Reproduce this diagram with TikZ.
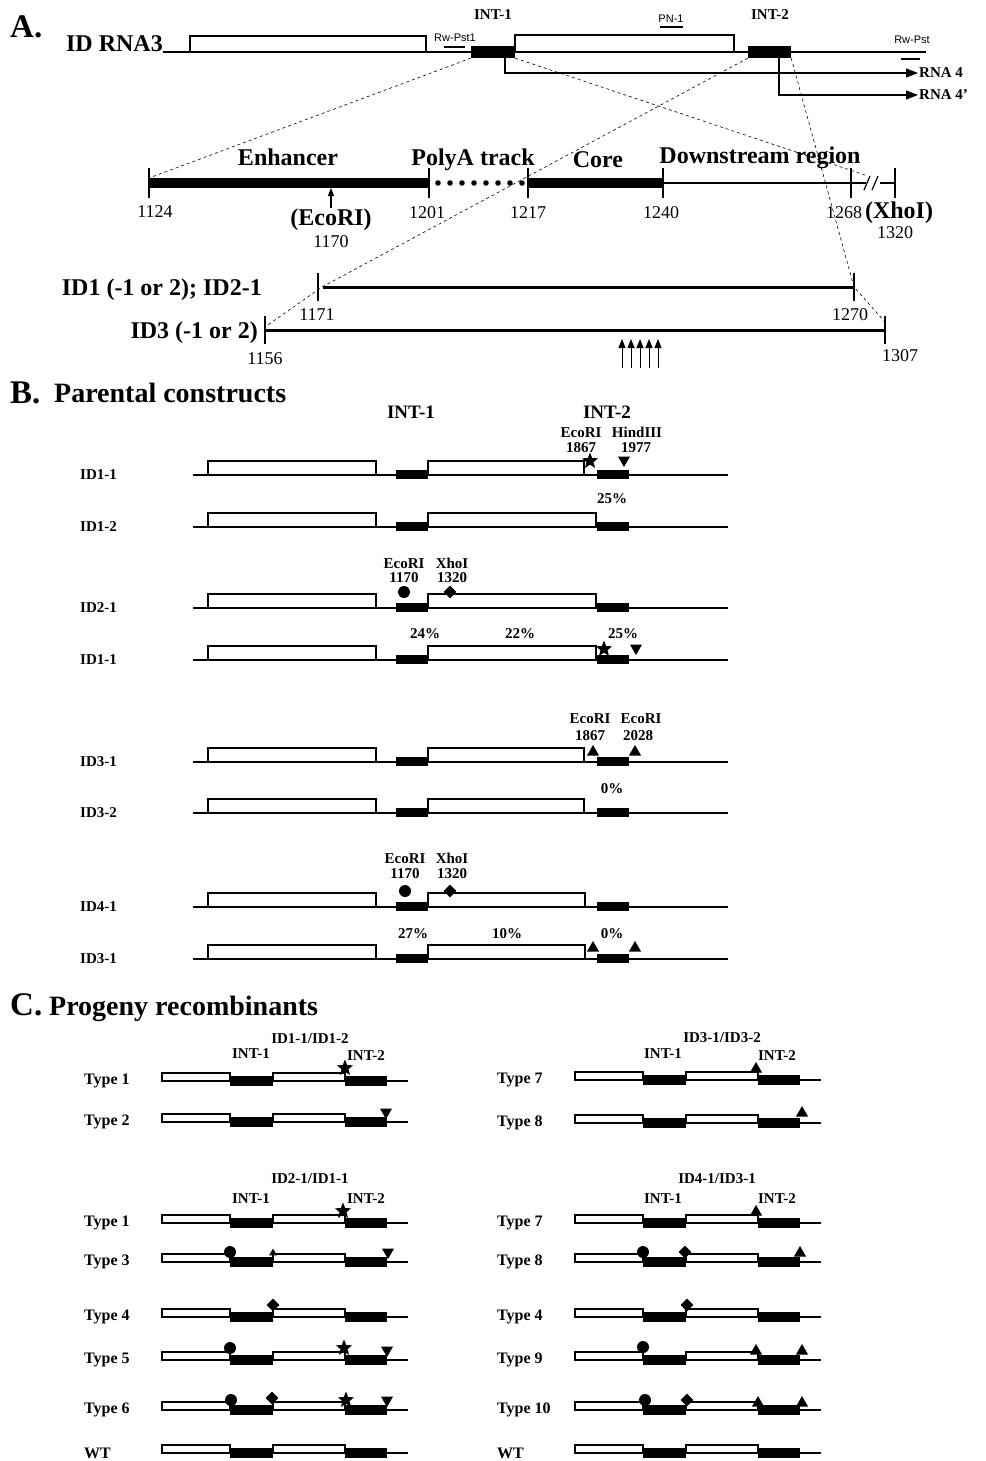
\documentclass[tikz,border=0pt]{standalone}
\usepackage{fontspec}
\setmainfont{Liberation Serif}
\newfontfamily\arialfont{Liberation Sans}
\usepackage{tikz}
\usetikzlibrary{arrows.meta,positioning,shapes.geometric}
\tikzset{
  panel/.style={font=\bfseries\fontsize{33}{35}\selectfont, inner sep=0pt, anchor=base west},
  paneltitle/.style={font=\bfseries\fontsize{28}{30}\selectfont, inner sep=0pt, anchor=base west},
  bigword/.style={font=\bfseries\fontsize{24}{26}\selectfont, inner sep=0pt, anchor=base},
  posnum/.style={font=\fontsize{18}{20}\selectfont, inner sep=0pt, anchor=base},
  intlabel/.style={font=\bfseries\fontsize{15}{16}\selectfont, inner sep=0pt, anchor=base},
  bintlabel/.style={font=\bfseries\fontsize{19}{20}\selectfont, inner sep=0pt, anchor=base},
  sitelabel/.style={font=\bfseries\fontsize{15}{16}\selectfont, inner sep=0pt, anchor=base},
  probe/.style={font=\arialfont\fontsize{11}{12}\selectfont, inner sep=0pt, anchor=base},
  rnalabel/.style={font=\bfseries\fontsize{15}{16}\selectfont, inner sep=1pt, anchor=west},
  rowname/.style={font=\bfseries\fontsize{15}{16}\selectfont, inner sep=0pt, anchor=west},
  typename/.style={font=\bfseries\fontsize{16}{17}\selectfont, inner sep=0pt, anchor=west},
  gene/.style={line width=1.6pt},
  openbox/.style={draw, line width=1.5pt, fill=white},
  intbox/.style={fill=black, inner sep=0pt},
  zoomline/.style={dash pattern=on 3pt off 3pt, line width=0.6pt},
  tickmark/.style={line width=2.6pt},
  rnaarrow/.style={line width=1.6pt, -{Triangle[length=12pt,width=9pt]}},
  siteup/.style={line width=1.1pt, -{Triangle[length=8pt,width=6pt]}},
  mcircle/.style={circle, fill=black, inner sep=0pt, minimum size=12pt},
  mdiamond/.style={diamond, fill=black, inner sep=0pt, minimum size=13pt},
  mstar/.style={star, star points=5, star point ratio=2.3, fill=black, inner sep=0pt, minimum size=17pt},
  mup/.style={regular polygon, regular polygon sides=3, fill=black, inner sep=0pt, minimum size=14pt},
  mdown/.style={mup, shape border rotate=180},
}
% one parental construct of panel B
\newcommand{\parentrow}[4]{%
  \node[rowname] (#1) at (80,#2) {#3};
  \draw[gene] (193,#2) -- (728,#2);
  \draw[openbox] (208,#2) rectangle (376,{#2-14});
  \draw[openbox] (428,#2) rectangle (#4,{#2-14});
  \fill (396,{#2-5}) rectangle (428,{#2+4});
  \fill (597,{#2-5}) rectangle (629,{#2+4});
}
% one progeny type of panel C
\newcommand{\progenyrow}[4]{%
  \begin{scope}[shift={(#2,#3)}]
    \node[typename] (#1) at (84,0) {#4};
    \draw[openbox] (162,0) rectangle (230,-8);
    \fill (230,-5) rectangle (273,5);
    \draw[openbox] (273,0) rectangle (345,-8);
    \fill (345,-5) rectangle (387,5);
    \draw[gene] (387,0) -- (408,0);
  \end{scope}}

\begin{document}
\begin{tikzpicture}[x=1pt, y=-1pt]
  \useasboundingbox (0,0) rectangle (985,1461);

  % A. ID RNA3 map
  \node[panel] (pa) at (10,38) {A.};
  \node[bigword, anchor=base east] (rna3) at (163,52) {ID RNA3};
  \draw[gene] (163,52) -- (926,52);
  \draw[openbox] (190,52) rectangle (426,36);
  \draw[openbox] (515,52) rectangle (734,35);
  \node[intbox, minimum width=44pt, minimum height=12pt] (int1) at (493,52) {};
  \node[intbox, minimum width=43pt, minimum height=12pt] (int2) at (769.5,52) {};
  \node[intlabel] (int1t) at (493,20) {INT-1};
  \node[intlabel] (int2t) at (770,20) {INT-2};
  \node[probe] (pst1) at (455,42) {Rw-Pst1};
  \draw[line width=2pt] (444,47) -- (465,47);
  \node[probe] (pn1) at (671,23) {PN-1};
  \draw[line width=1.2pt] (660,27) -- (683,27);
  \node[probe] (pst) at (912,44) {Rw-Pst};
  \draw[line width=2pt] (901,59) -- (920,59);
  \node[rnalabel] (rna4) at (918,73) {RNA 4};
  \node[rnalabel] (rna4p) at (918,95) {RNA 4'};
  \coordinate (r4) at (505,58);
  \coordinate (r4p) at (779,58);
  \draw[rnaarrow] (r4) |- (rna4);
  \draw[rnaarrow] (r4p) |- (rna4p);

  % enlarged INT-1 region
  \coordinate (t1124) at (149,183);
  \coordinate (t1201) at (429,183);
  \coordinate (t1217) at (528,183);
  \coordinate (t1240) at (663,183);
  \coordinate (t1268) at (851,183);
  \coordinate (t1320) at (895,183);
  \draw[line width=10pt] (t1124) -- (t1201);
  \foreach \x in {438,450,...,522}
    \fill (\x,183) circle (2.8pt);
  \draw[line width=10pt] (t1217) -- (t1240);
  \draw[gene] (t1240) -- (866,183);
  \draw[gene] (880,183) -- (t1320);
  \draw[line width=1.2pt] (864,190) -- (870,176);
  \draw[line width=1.2pt] (872,190) -- (878,176);
  \foreach \t in {t1124,t1201,t1217,t1240,t1268,t1320}
    \draw[tickmark] (\t) +(0,-15) -- +(0,15);
  \node[bigword] (enh) at (288,165) {Enhancer};
  \node[bigword] (polya) at (473,165) {PolyA track};
  \node[bigword] (core) at (598,167) {Core};
  \node[bigword] (down) at (760,163) {Downstream region};
  \node[posnum] (n1124) at (155,217) {1124};
  \node[posnum] (n1201) at (427,218) {1201};
  \node[posnum] (n1217) at (528,218) {1217};
  \node[posnum] (n1240) at (661,218) {1240};
  \node[posnum] (n1268) at (844,218) {1268};
  \node[bigword] (xhoA) at (899,218) {(XhoI)};
  \node[posnum] (n1320) at (895,238) {1320};
  \node[bigword] (ecoA) at (331,225) {(EcoRI)};
  \node[posnum] (n1170) at (331,247) {1170};
  \coordinate (eco) at (331,188);
  \draw[siteup] (ecoA.north) -- (eco);

  % deletion constructs
  \node[bigword, anchor=base east] (id1) at (262,295) {ID1 (-1 or 2); ID2-1};
  \coordinate (t1171) at (318,287);
  \coordinate (t1270) at (854,287);
  \draw[line width=3pt] ([xshift=5pt]t1171) -- (t1270);
  \draw[tickmark] (t1171) +(0,-14) -- +(0,14);
  \draw[tickmark] (t1270) +(0,-14) -- +(0,14);
  \node[posnum] (n1171) at (317,320) {1171};
  \node[posnum] (n1270) at (850,320) {1270};
  \node[bigword, anchor=base east] (id3) at (258,338) {ID3 (-1 or 2)};
  \coordinate (t1156) at (265,330);
  \coordinate (t1307) at (885,330);
  \draw[line width=3pt] (t1156) -- (t1307);
  \draw[tickmark] (t1156) +(0,-14) -- +(0,14);
  \draw[tickmark] (t1307) +(0,-14) -- +(0,14);
  \node[posnum] (n1156) at (265,364) {1156};
  \node[posnum] (n1307) at (900,361) {1307};
  \foreach \x in {622,631,640,649,658}
    \draw[line width=1pt, -{Triangle[length=9pt,width=7pt]}] (\x,368) -- (\x,339);

  % zoom lines
  \draw[zoomline] (int1.south west) -- ([yshift=5pt]t1124);
  \draw[zoomline] (int1.south east) -- ([xshift=14pt,yshift=8pt]t1268);
  \draw[zoomline] (int2.south west) -- ([xshift=4pt]t1171) -- ([yshift=3pt]t1156);
  \draw[zoomline] (int2.south east) -- (t1270) -- ([yshift=8pt]t1307);

  % B. Parental constructs
  \node[panel] (pb) at (10,403) {B.};
  \node[paneltitle] (pbt) at (54,402) {Parental constructs};
  \node[bintlabel] (bint1) at (411,418) {INT-1};
  \node[bintlabel] (bint2) at (607,418) {INT-2};

  \parentrow{b1}{475}{ID1-1}{584}
  \node[sitelabel] (b1e) at (581,437) {EcoRI};
  \node[sitelabel] (b1en) at (581,452) {1867};
  \node[sitelabel] (b1h) at (637,437) {HindIII};
  \node[sitelabel] (b1hn) at (636,452) {1977};
  \node[mstar] (b1s) at (590,461) {};
  \node[mdown] (b1d) at (624,460) {};
  \node[sitelabel] (b1p) at (612,503) {25\%};
  \parentrow{b2}{527}{ID1-2}{596}

  \parentrow{b3}{608}{ID2-1}{596}
  \node[sitelabel] (b3e) at (404,568) {EcoRI};
  \node[sitelabel] (b3en) at (404,582) {1170};
  \node[sitelabel] (b3x) at (452,568) {XhoI};
  \node[sitelabel] (b3xn) at (452,582) {1320};
  \node[mcircle] (b3c) at (404,592) {};
  \node[mdiamond] (b3d) at (450,592) {};
  \node[sitelabel] (b4p1) at (425,638) {24\%};
  \node[sitelabel] (b4p2) at (520,638) {22\%};
  \node[sitelabel] (b4p3) at (623,638) {25\%};
  \parentrow{b4}{660}{ID1-1}{596}
  \node[mstar] (b4s) at (604,649) {};
  \node[mdown] (b4d) at (636,648) {};

  \node[sitelabel] (b5e) at (590,723) {EcoRI};
  \node[sitelabel] (b5en) at (590,740) {1867};
  \node[sitelabel] (b5f) at (641,723) {EcoRI};
  \node[sitelabel] (b5fn) at (638,740) {2028};
  \parentrow{b5}{762}{ID3-1}{584}
  \node[mup] (b5a) at (593,752) {};
  \node[mup] (b5b) at (635,752) {};
  \node[sitelabel] (b6p) at (612,793) {0\%};
  \parentrow{b6}{813}{ID3-2}{584}

  \parentrow{b7}{907}{ID4-1}{585}
  \node[sitelabel] (b7e) at (405,863) {EcoRI};
  \node[sitelabel] (b7en) at (405,878) {1170};
  \node[sitelabel] (b7x) at (452,863) {XhoI};
  \node[sitelabel] (b7xn) at (452,878) {1320};
  \node[mcircle] (b7c) at (405,891) {};
  \node[mdiamond] (b7d) at (450,891) {};
  \node[sitelabel] (b8p1) at (413,938) {27\%};
  \node[sitelabel] (b8p2) at (507,938) {10\%};
  \node[sitelabel] (b8p3) at (612,938) {0\%};
  \parentrow{b8}{959}{ID3-1}{585}
  \node[mup] (b8a) at (593,948) {};
  \node[mup] (b8b) at (635,948) {};

  % C. Progeny recombinants
  \node[panel] (pc) at (10,1015) {C.};
  \node[paneltitle] (pct) at (49,1015) {Progeny recombinants};

  \node[sitelabel] (c1h) at (310,1043) {ID1-1/ID1-2};
  \node[sitelabel] (c1i) at (251,1058) {INT-1};
  \node[sitelabel] (c1j) at (366,1060) {INT-2};
  \progenyrow{c11}{0}{1081}{Type 1}
  \node[mstar] (c11s) at (345,1068) {};
  \progenyrow{c12}{0}{1122}{Type 2}
  \node[mdown] (c12d) at (386,1112) {};

  \node[sitelabel] (c2h) at (310,1183) {ID2-1/ID1-1};
  \node[sitelabel] (c2i) at (251,1203) {INT-1};
  \node[sitelabel] (c2j) at (366,1203) {INT-2};
  \progenyrow{c21}{0}{1223}{Type 1}
  \node[mstar] (c21s) at (343,1211) {};
  \progenyrow{c23}{0}{1262}{Type 3}
  \node[mcircle] (c23c) at (230,1252) {};
  \node[mup, minimum size=9pt] (c23a) at (273,1253) {};
  \node[mdown] (c23d) at (388,1252) {};
  \progenyrow{c24}{0}{1317}{Type 4}
  \node[mdiamond] (c24m) at (273,1305) {};
  \progenyrow{c25}{0}{1360}{Type 5}
  \node[mcircle] (c25c) at (230,1348) {};
  \node[mstar] (c25s) at (344,1348) {};
  \node[mdown] (c25d) at (387,1350) {};
  \progenyrow{c26}{0}{1410}{Type 6}
  \node[mcircle] (c26c) at (231,1400) {};
  \node[mdiamond] (c26m) at (272,1398) {};
  \node[mstar] (c26s) at (346,1400) {};
  \node[mdown] (c26d) at (387,1400) {};
  \progenyrow{c2w}{0}{1453}{WT}

  \node[sitelabel] (c3h) at (722,1042) {ID3-1/ID3-2};
  \node[sitelabel] (c3i) at (663,1058) {INT-1};
  \node[sitelabel] (c3j) at (777,1060) {INT-2};
  \progenyrow{c37}{413}{1080}{Type 7}
  \node[mup] (c37a) at (756,1069) {};
  \progenyrow{c38}{413}{1123}{Type 8}
  \node[mup] (c38a) at (802,1113) {};

  \node[sitelabel] (c4h) at (717,1183) {ID4-1/ID3-1};
  \node[sitelabel] (c4i) at (663,1203) {INT-1};
  \node[sitelabel] (c4j) at (777,1203) {INT-2};
  \progenyrow{c47}{413}{1223}{Type 7}
  \node[mup] (c47a) at (756,1212) {};
  \progenyrow{c48}{413}{1262}{Type 8}
  \node[mcircle] (c48c) at (643,1252) {};
  \node[mdiamond] (c48m) at (685,1252) {};
  \node[mup] (c48a) at (800,1253) {};
  \progenyrow{c44}{413}{1317}{Type 4}
  \node[mdiamond] (c44m) at (687,1305) {};
  \progenyrow{c49}{413}{1360}{Type 9}
  \node[mcircle] (c49c) at (643,1347) {};
  \node[mup] (c49a) at (756,1351) {};
  \node[mup] (c49b) at (802,1351) {};
  \progenyrow{c40}{413}{1410}{Type 10}
  \node[mcircle] (c40c) at (645,1400) {};
  \node[mdiamond] (c40m) at (687,1400) {};
  \node[mup] (c40a) at (758,1403) {};
  \node[mup] (c40b) at (802,1403) {};
  \progenyrow{c4w}{413}{1453}{WT}
\end{tikzpicture}
\end{document}
